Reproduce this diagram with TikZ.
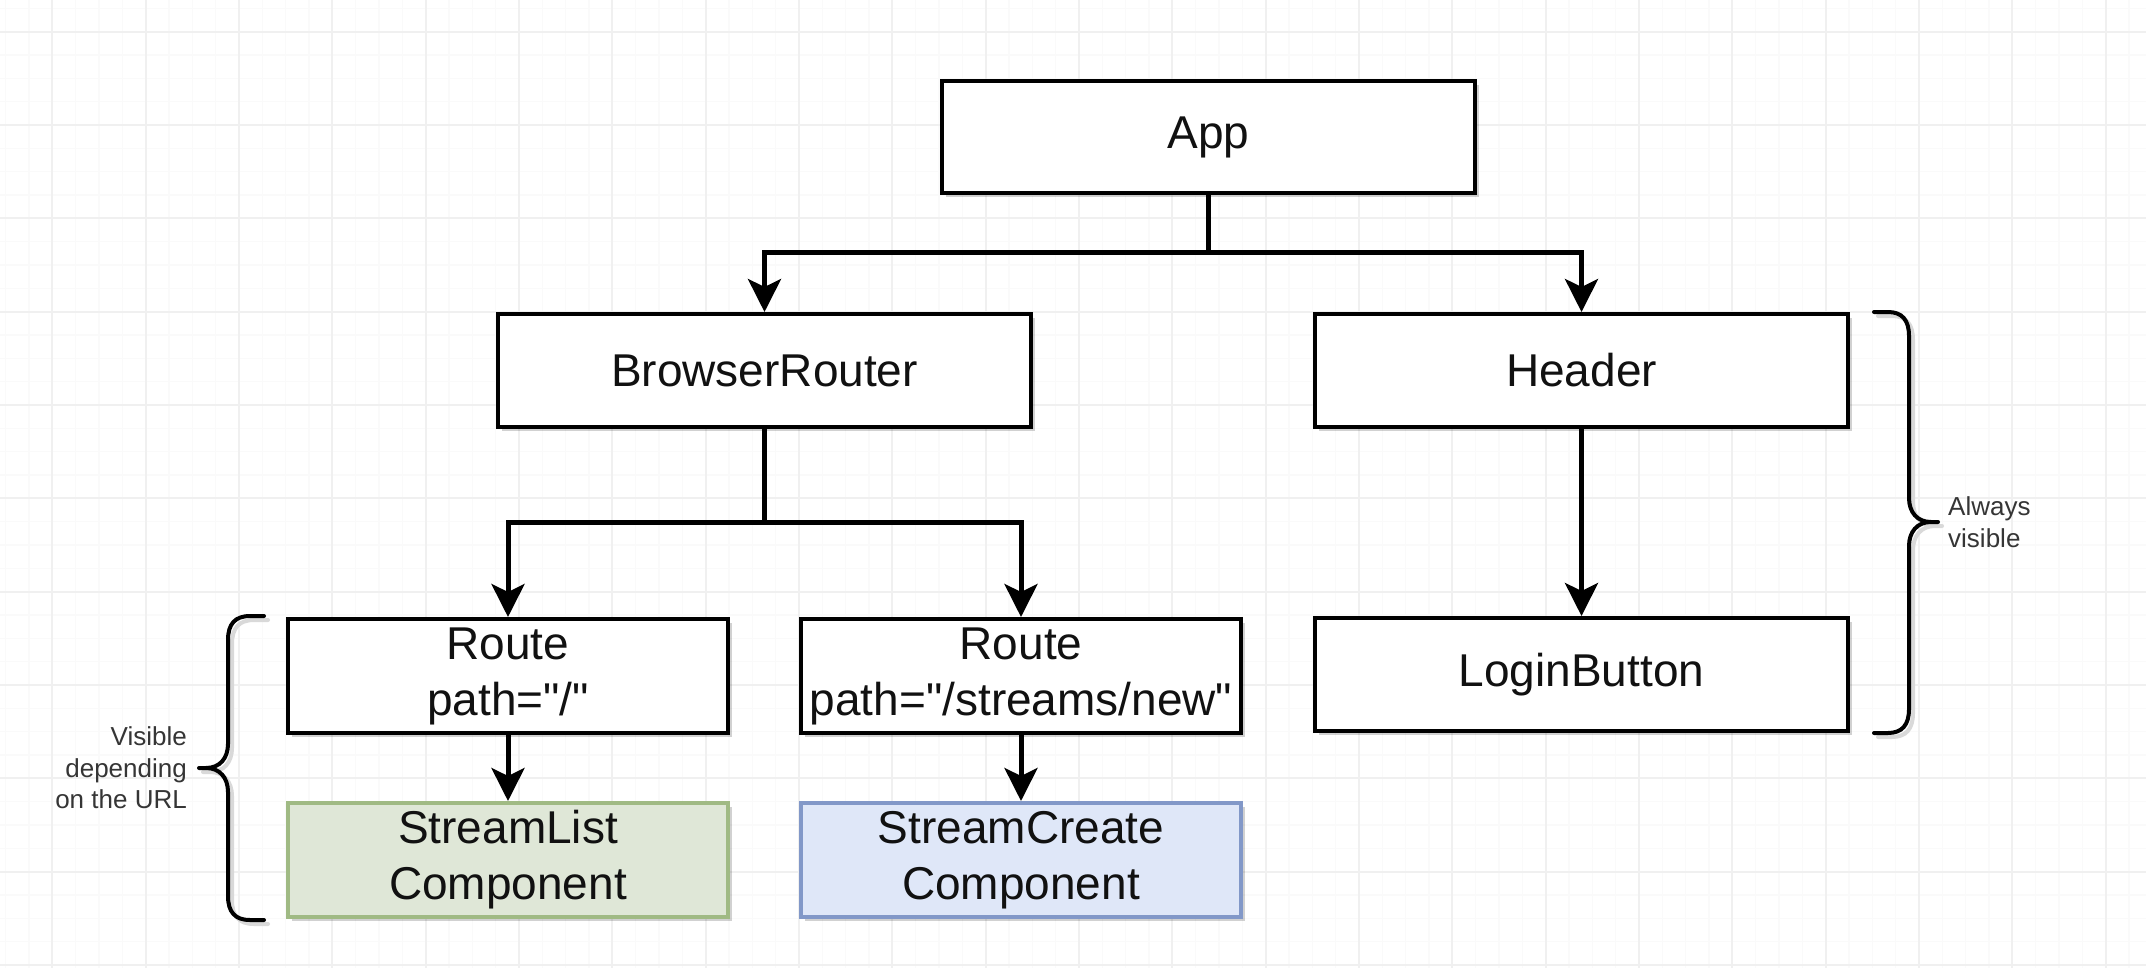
\documentclass[tikz,border=0pt]{standalone}
\usepackage{fontspec}
\setmainfont{Liberation Sans}[Ligatures=TeXOff]
\usetikzlibrary{arrows.meta,shadows}
\definecolor{gridmaj}{HTML}{F0F0F0}
\definecolor{gridmin}{HTML}{FAFAFA}
\definecolor{greenfill}{HTML}{DFE7D7}
\definecolor{greenline}{HTML}{A0BA84}
\definecolor{bluefill}{HTML}{DFE7F8}
\definecolor{blueline}{HTML}{8298C8}
\definecolor{inktext}{HTML}{111111}
\tikzset{
  gridmajor/.style={draw=gridmaj,line width=1.8pt},
  gridminor/.style={draw=gridmin,line width=1.2pt},
  boxshadow/.style={drop shadow={shadow xshift=4pt,shadow yshift=-4pt,fill=black,opacity=0.18}},
  compbox/.style={draw=black,line width=4pt,fill=white,boxshadow,
    align=center,inner sep=0pt,text=inktext,
    font=\fontsize{46}{56}\selectfont},
  widebox/.style={compbox,minimum width=533pt,minimum height=113pt},
  routebox/.style={compbox,minimum width=440pt,minimum height=114pt},
  greenbox/.style={routebox,draw=greenline,fill=greenfill},
  bluebox/.style={routebox,draw=blueline,fill=bluefill},
  conn/.style={draw=black,line width=5pt},
  arr/.style={conn,-{Stealth[length=33pt,width=33pt,inset=8pt]}},
  bracestyle/.style={draw=black,line width=4pt,line cap=round},
  notetext/.style={text=inktext!85,inner sep=0pt,font=\fontsize{26}{31.5}\selectfont}
}
\begin{document}
\begin{tikzpicture}[x=1pt,y=-1pt]
\useasboundingbox (0,0) rectangle (2146,968);
\fill[white] (0,0) rectangle (2146,968);
% grid
\foreach \i in {0,...,92} \draw[gridminor] ({5.64+23.333*\i},0) -- ({5.64+23.333*\i},968);
\foreach \i in {0,...,41} \draw[gridminor] (0,{8.37+23.333*\i}) -- (2146,{8.37+23.333*\i});
\foreach \i in {0,...,22} \draw[gridmajor] ({52.3+93.333*\i},0) -- ({52.3+93.333*\i},968);
\foreach \i in {0,...,10} \draw[gridmajor] (0,{31.7+93.333*\i}) -- (2146,{31.7+93.333*\i});

% nodes
\node[widebox,minimum height=112pt] (app) at (1208.5,137) {App};
\node[widebox] (br)  at (764.5,370.5) {BrowserRouter};
\node[widebox] (hdr) at (1581.5,370.5) {Header};
\node[routebox] (r1) at (508,676) {Route\\path="/"};
\node[routebox] (r2) at (1021,676) {Route\\path="/streams/new"};
\node[widebox] (lb) at (1581.5,674.5) {LoginButton};
\node[greenbox] (sl) at (508,860) {StreamList\\Component};
\node[bluebox] (sc) at (1021,860) {StreamCreate\\Component};

% connectors
\coordinate (j1) at (1208.5,253);
\coordinate (j2) at (764.5,522);
\draw[conn] (app.south) -- (j1);
\draw[arr] (j1) -| (br.north);
\draw[arr] (j1) -| (hdr.north);
\draw[conn] (br.south) -- (j2);
\draw[arr] (j2) -| (r1.north);
\draw[arr] (j2) -| (r2.north);
\draw[arr] (hdr.south) -- (lb.north);
\draw[arr] (r1.south) -- (sl.north);
\draw[arr] (r2.south) -- (sc.north);

% left brace
\draw[bracestyle,draw=black!15,line width=4pt] (268,620) -- (254,620) .. controls (239,620) and (232,628) .. (232,644) -- (232,748) .. controls (232,762) and (224,772) .. (210,772) -- (203,772)
  (210,772) .. controls (224,772) and (232,782) .. (232,796) -- (232,900) .. controls (232,916) and (239,924) .. (254,924) -- (268,924);
\draw[bracestyle] (264,616) -- (250,616) .. controls (235,616) and (228,624) .. (228,640) -- (228,744) .. controls (228,758) and (220,768) .. (206,768) -- (199,768)
  (206,768) .. controls (220,768) and (228,778) .. (228,792) -- (228,896) .. controls (228,912) and (235,920) .. (250,920) -- (264,920);
\node[notetext,align=right,anchor=east] (lefttext) at (187,768) {Visible\\depending\\on the URL};

% right brace
\draw[bracestyle,draw=black!15,line width=4pt] (1878,316) -- (1892,316) .. controls (1906,316) and (1913,324) .. (1913,340) -- (1913,502) .. controls (1913,516) and (1921,526) .. (1935,526) -- (1942,526)
  (1935,526) .. controls (1921,526) and (1913,536) .. (1913,550) -- (1913,713) .. controls (1913,729) and (1906,737) .. (1892,737) -- (1878,737);
\draw[bracestyle] (1874,312) -- (1888,312) .. controls (1902,312) and (1909,320) .. (1909,336) -- (1909,498) .. controls (1909,512) and (1917,522) .. (1931,522) -- (1938,522)
  (1931,522) .. controls (1917,522) and (1909,532) .. (1909,546) -- (1909,709) .. controls (1909,725) and (1902,733) .. (1888,733) -- (1874,733);
\node[notetext,align=left,anchor=west] (righttext) at (1948,522) {Always\\visible};
\end{tikzpicture}
\end{document}
